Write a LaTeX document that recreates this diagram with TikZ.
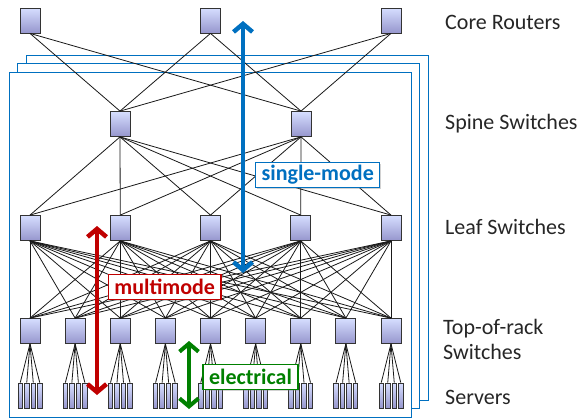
\documentclass[tikz,border=0pt]{standalone}
\usepackage{fontspec}
\setmainfont{Carlito}
\usetikzlibrary{arrows.meta, shadows}
\definecolor{linkblue}{RGB}{0, 112, 192}
\definecolor{mmred}{RGB}{192, 0, 0}
\definecolor{elecgreen}{RGB}{0, 128, 0}
\definecolor{boxtop}{RGB}{214, 222, 255}
\definecolor{boxbot}{RGB}{150, 150, 205}
\definecolor{tiertext}{RGB}{38, 38, 38}

\begin{document}
\begin{tikzpicture}[
    x=1pt, y=-1pt,
    sw/.style={
      draw=black!80, line width=0.8pt, top color=boxtop, bottom color=boxbot,
      minimum width=20pt, minimum height=25pt, inner sep=0pt
    },
    srv/.style={sw, minimum width=4.5pt},
    link/.style={black!90, line width=0.8pt},
    plane/.style={draw=linkblue, fill=white, line width=0.9pt},
    span/.style={
      {Straight Barb[length=8pt, width=19pt]}-{Straight Barb[length=8pt, width=19pt]},
      line width=4.5pt
    },
    tag/.style={
      draw, fill=white, line width=1.2pt, font=\fontsize{22}{26}\selectfont\bfseries,
      minimum height=25pt, inner xsep=6pt, inner ysep=0pt,
      drop shadow={shadow xshift=1.5pt, shadow yshift=-1.5pt, opacity=0.35}
    },
    tier/.style={anchor=west, align=left, inner sep=0pt, text=tiertext,
      font=\fontsize{22}{25}\selectfont},
]
    \useasboundingbox (0,0) rectangle (584,418);

    % Stacked planes
    \foreach \k in {2,1,0}
      \draw[plane] (9+8.5*\k, 72-8.5*\k) rectangle (411+8.5*\k, 417-8.5*\k);

    % Core routers
    \foreach \i/\x in {1/30, 2/210.5, 3/391}
      \node[sw] (core\i) at (\x, 20.5) {};

    % Spine switches
    \foreach \i/\x in {1/120, 2/301}
      \node[sw] (spine\i) at (\x, 124) {};

    % Leaf switches
    \foreach \i in {1,...,5}
      \node[sw] (leaf\i) at ({30+90.25*(\i-1)}, 228) {};

    % Top-of-rack switches with their servers
    \foreach \i in {1,...,9} {
      \node[sw] (tor\i) at ({30+45.125*(\i-1)}, 331) {};
      \foreach \j/\dx in {1/-9.75, 2/-3.25, 3/3.25, 4/9.75} {
        \node[srv] (srv\i-\j) at ({30+45.125*(\i-1)+\dx}, 395.5) {};
        \draw[link] (tor\i.south) -- (srv\i-\j.north);
      }
    }

    % Links between tiers
    \foreach \c in {1,2,3}
      \foreach \s in {1,2}
        \draw[link] (core\c.south) -- (spine\s.north);
    \foreach \s in {1,2}
      \foreach \l in {1,...,5}
        \draw[link] (spine\s.south) -- (leaf\l.north);
    \foreach \l in {1,...,5}
      \foreach \t in {1,...,9}
        \draw[link] (leaf\l.south) -- (tor\t.north);

    % Fibre / cable reach
    \coordinate (smTop) at (243, 21);
    \coordinate (smBot) at (243, 273);
    \coordinate (mmTop) at (97, 226);
    \coordinate (mmBot) at (97, 395);
    \coordinate (elTop) at (189, 341);
    \coordinate (elBot) at (189, 409);
    \draw[span, linkblue] (smTop) -- (smBot);
    \draw[span, mmred] (mmTop) -- (mmBot);
    \draw[span, elecgreen, line width=4pt] (elTop) -- (elBot);

    \node[tag, draw=linkblue, text=linkblue] (smTag) at (317.7, 174.7) {single-mode};
    \node[tag, draw=mmred, text=mmred] (mmTag) at (164.7, 286.7) {multimode};
    \node[tag, draw=elecgreen, text=elecgreen] (elTag) at (250.5, 376.8) {electrical};

    % Tier names
    \node[tier] (lblCore) at (445, 22) {Core Routers};
    \node[tier] (lblSpine) at (445, 123.5) {Spine Switches};
    \node[tier] (lblLeaf) at (445, 227) {Leaf Switches};
    \node[tier] (lblTor) at (443, 339) {Top-of-rack\\Switches};
    \node[tier] (lblSrv) at (445, 397) {Servers};
\end{tikzpicture}
\end{document}
